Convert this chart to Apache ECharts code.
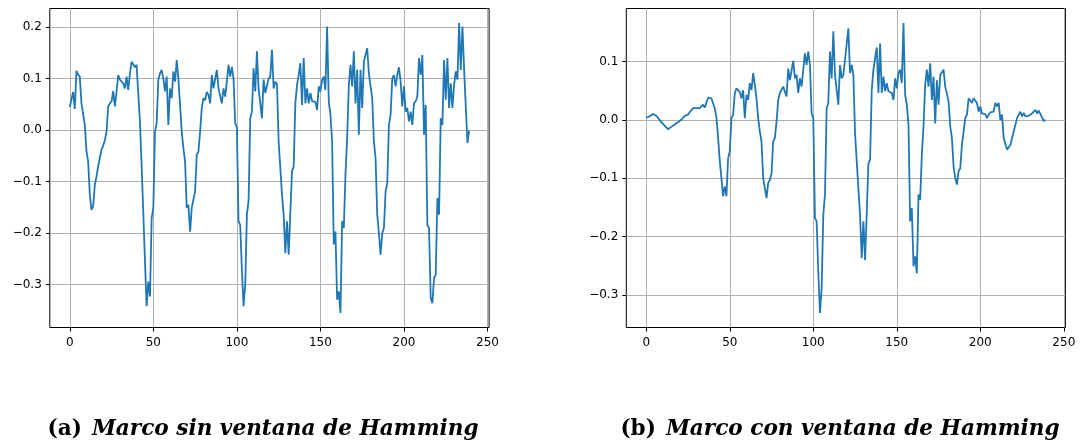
<!DOCTYPE html>
<html>
<head>
<meta charset="utf-8">
<script src="https://cdn.jsdelivr.net/npm/echarts@6/dist/echarts.min.js"></script>
<style>
  html, body { margin: 0; padding: 0; background: #ffffff; }
  #chart { width: 1086px; height: 441px; }
</style>
</head>
<body>
<div id="chart"></div>
<script>
// Frame samples (240 per frame), before and after the Hamming window
const sinVentana = [
  0.045, 0.045, 0.074, 0.041, 0.115, 0.108, 0.104, 0.052, 0.052, 0.010,
  -0.041, -0.061, -0.125, -0.155, -0.148, -0.106, -0.090, -0.070, -0.054, -0.038,
  -0.030, -0.020, -0.003, 0.046, 0.052, 0.056, 0.076, 0.046, 0.075, 0.107,
  0.098, 0.100, 0.091, 0.081, 0.104, 0.078, 0.110, 0.133, 0.133, 0.122,
  0.127, 0.069, 0.017, -0.070, -0.160, -0.255, -0.342, -0.294, -0.323, -0.171,
  -0.151, -0.003, 0.014, 0.098, 0.110, 0.117, 0.100, 0.075, 0.104, 0.010,
  0.081, 0.062, 0.114, 0.094, 0.136, 0.100, 0.049, -0.003, -0.035, -0.061,
  -0.151, -0.145, -0.197, -0.151, -0.148, -0.119, -0.048, -0.041, -0.003, 0.043,
  0.062, 0.058, 0.074, 0.069, 0.052, 0.107, 0.081, 0.081, 0.117, 0.081,
  0.078, 0.052, 0.081, 0.065, 0.094, 0.127, 0.104, 0.123, 0.100, 0.014,
  0.004, -0.177, -0.184, -0.270, -0.342, -0.300, -0.164, -0.138, 0.023, 0.036,
  0.120, 0.075, 0.153, 0.081, 0.078, 0.023, 0.098, 0.072, 0.075, 0.100,
  0.104, 0.156, 0.081, 0.094, 0.090, -0.022, -0.025, -0.125, -0.164, -0.239,
  -0.177, -0.242, -0.160, -0.080, -0.070, 0.052, 0.088, 0.107, 0.130, 0.049,
  0.140, 0.052, 0.081, 0.052, 0.072, 0.056, 0.059, 0.055, 0.039, 0.085,
  0.075, 0.097, 0.104, 0.078, 0.201, 0.056, 0.030, -0.022, -0.222, -0.197,
  -0.329, -0.313, -0.355, -0.177, -0.190, -0.085, -0.015, 0.088, 0.127, 0.085,
  0.153, 0.052, 0.117, -0.009, 0.117, 0.043, 0.133, 0.136, 0.159, 0.110,
  0.085, 0.062, -0.022, -0.054, -0.164, -0.200, -0.242, -0.200, -0.190, -0.119,
  -0.103, 0.010, 0.030, 0.100, 0.107, 0.085, 0.107, 0.122, 0.094, 0.046,
  0.085, 0.036, 0.043, 0.017, 0.036, 0.010, 0.052, 0.056, 0.065, 0.140,
  0.107, 0.146, -0.009, 0.049, -0.184, -0.190, -0.326, -0.336, -0.287, -0.281,
  -0.132, -0.164, 0.023, 0.010, 0.136, 0.059, 0.140, 0.043, 0.091, 0.043,
  0.088, 0.114, 0.098, 0.208, 0.117, 0.201, 0.117, 0.114, -0.025, -0.001
];

const conVentana = [
  0.004, 0.005, 0.006, 0.007, 0.010, 0.009, 0.007, 0.004, 0.000, -0.004,
  -0.006, -0.010, -0.013, -0.016, -0.015, -0.012, -0.009, -0.008, -0.006, -0.004,
  -0.003, 0.000, 0.003, 0.007, 0.010, 0.009, 0.013, 0.010, 0.020, 0.022,
  0.020, 0.022, 0.020, 0.023, 0.026, 0.021, 0.023, 0.038, 0.038, 0.037,
  0.038, 0.020, 0.004, -0.030, -0.070, -0.100, -0.131, -0.114, -0.131, -0.066,
  -0.054, 0.003, 0.009, 0.045, 0.054, 0.057, 0.048, 0.037, 0.051, 0.003,
  0.043, 0.034, 0.063, 0.051, 0.080, 0.060, 0.037, 0.003, -0.020, -0.037,
  -0.100, -0.103, -0.134, -0.108, -0.103, -0.092, -0.037, -0.031, -0.003, 0.034,
  0.046, 0.044, 0.057, 0.054, 0.040, 0.088, 0.068, 0.068, 0.101, 0.071,
  0.077, 0.046, 0.071, 0.057, 0.086, 0.114, 0.094, 0.117, 0.094, 0.011,
  0.003, -0.168, -0.174, -0.260, -0.331, -0.290, -0.163, -0.128, 0.020, 0.029,
  0.117, 0.071, 0.152, 0.077, 0.077, 0.026, 0.094, 0.071, 0.077, 0.103,
  0.103, 0.157, 0.080, 0.094, 0.077, -0.023, -0.026, -0.117, -0.163, -0.237,
  -0.174, -0.240, -0.160, -0.075, -0.068, 0.051, 0.086, 0.106, 0.124, 0.046,
  0.131, 0.046, 0.074, 0.049, 0.063, 0.049, 0.051, 0.046, 0.034, 0.071,
  0.054, 0.080, 0.086, 0.063, 0.166, 0.043, 0.026, -0.009, -0.174, -0.151,
  -0.251, -0.234, -0.263, -0.128, -0.137, -0.060, -0.010, 0.060, 0.086, 0.057,
  0.097, 0.034, 0.074, -0.006, 0.068, 0.026, 0.077, 0.077, 0.086, 0.057,
  0.045, 0.031, -0.011, -0.031, -0.080, -0.100, -0.111, -0.088, -0.083, -0.043,
  -0.040, 0.003, 0.009, 0.037, 0.037, 0.029, 0.037, 0.040, 0.029, 0.014,
  0.023, 0.011, 0.009, 0.010, 0.003, 0.009, 0.013, 0.013, 0.014, 0.029,
  0.023, 0.029, 0.000, 0.009, -0.031, -0.034, -0.051, -0.051, -0.043, -0.040,
  -0.020, -0.017, 0.003, 0.006, 0.014, 0.006, 0.012, 0.006, 0.009, 0.007,
  0.009, 0.011, 0.010, 0.017, 0.011, 0.016, 0.010, 0.008, -0.002, 0.000
];

const xTicks = [0, 50, 100, 150, 200, 250];
const yTicksA = [-0.3, -0.2, -0.1, 0.0, 0.1, 0.2];
const yTicksB = [-0.3, -0.2, -0.1, 0.0, 0.1];

const captionA = ['(a)', 'Marco sin ventana de Hamming'];
const captionB = ['(b)', 'Marco con ventana de Hamming'];

const LINE_COLOR = '#1f77b4';
const GRID_COLOR = '#b0b0b0';
const TICK_FONT = { fontFamily: 'DejaVu Sans', fontSize: 12, color: '#000000' };

// Axis limits padded by 5% of the data span on each side
function padded(lo, hi) {
  const m = (hi - lo) * 0.05;
  return [lo - m, hi + m];
}
function pairs(values) {
  return values.map((v, i) => [i, v]);
}
const fmtY = v => {
  const s = (Math.abs(v) < 1e-9 ? 0 : v).toFixed(1);
  return s.replace('-', '\u2212');
};

function xAxisFor(gridIndex, n) {
  const [lo, hi] = padded(0, n - 1);
  return {
    type: 'value', gridIndex, min: lo, max: hi,
    axisLine: { show: false, onZero: false },
    axisTick: { show: true, length: 4, lineStyle: { color: '#000', width: 1 }, customValues: xTicks },
    axisLabel: Object.assign({ customValues: xTicks, margin: 9, formatter: v => String(Math.round(v)) }, TICK_FONT),
    splitLine: { show: true, lineStyle: { color: GRID_COLOR, width: 1 } }
  };
}
function yAxisFor(gridIndex, values, ticks) {
  const [lo, hi] = padded(Math.min(...values), Math.max(...values));
  return {
    type: 'value', gridIndex, min: lo, max: hi,
    axisLine: { show: false, onZero: false },
    axisTick: { show: true, length: 4, lineStyle: { color: '#000', width: 1 }, customValues: ticks },
    axisLabel: Object.assign({ customValues: ticks, margin: 8, formatter: fmtY }, TICK_FONT),
    splitLine: { show: true, lineStyle: { color: GRID_COLOR, width: 1 } }
  };
}

function caption(parts, x) {
  return {
    type: 'text', x: x, y: 440,
    style: {
      text: '{u|' + parts[0] + '}{s| }{i|' + parts[1] + '}',
      align: 'center', verticalAlign: 'bottom',
      rich: {
        u: { fontFamily: 'DejaVu Serif', fontWeight: 'bold', fontSize: 21.6, fill: '#000' },
        s: { fontFamily: 'DejaVu Serif', fontSize: 21.6, width: 10 },
        i: { fontFamily: 'DejaVu Serif', fontWeight: 'bold', fontStyle: 'italic', fontSize: 21.6, fill: '#000' }
      }
    }
  };
}

const frame = { show: true, borderColor: '#000', borderWidth: 1, backgroundColor: 'transparent', outerBoundsMode: 'none', containLabel: false };

const chart = echarts.init(document.getElementById('chart'), null, { renderer: 'canvas' });
chart.setOption({
  animation: false,
  backgroundColor: '#ffffff',
  grid: [
    Object.assign({ left: 49.8, top: 8.5, width: 439.3, height: 319 }, frame),
    Object.assign({ left: 626.3, top: 8.5, width: 439.1, height: 319 }, frame)
  ],
  xAxis: [xAxisFor(0, sinVentana.length), xAxisFor(1, conVentana.length)],
  yAxis: [yAxisFor(0, sinVentana, yTicksA), yAxisFor(1, conVentana, yTicksB)],
  series: [
    { type: 'line', xAxisIndex: 0, yAxisIndex: 0, data: pairs(sinVentana), showSymbol: false, symbol: 'none',
      lineStyle: { color: LINE_COLOR, width: 1.8 }, itemStyle: { color: LINE_COLOR } },
    { type: 'line', xAxisIndex: 1, yAxisIndex: 1, data: pairs(conVentana), showSymbol: false, symbol: 'none',
      lineStyle: { color: LINE_COLOR, width: 1.8 }, itemStyle: { color: LINE_COLOR } }
  ],
  graphic: [caption(captionA, 263), caption(captionB, 840)]
});
</script>
</body>
</html>
